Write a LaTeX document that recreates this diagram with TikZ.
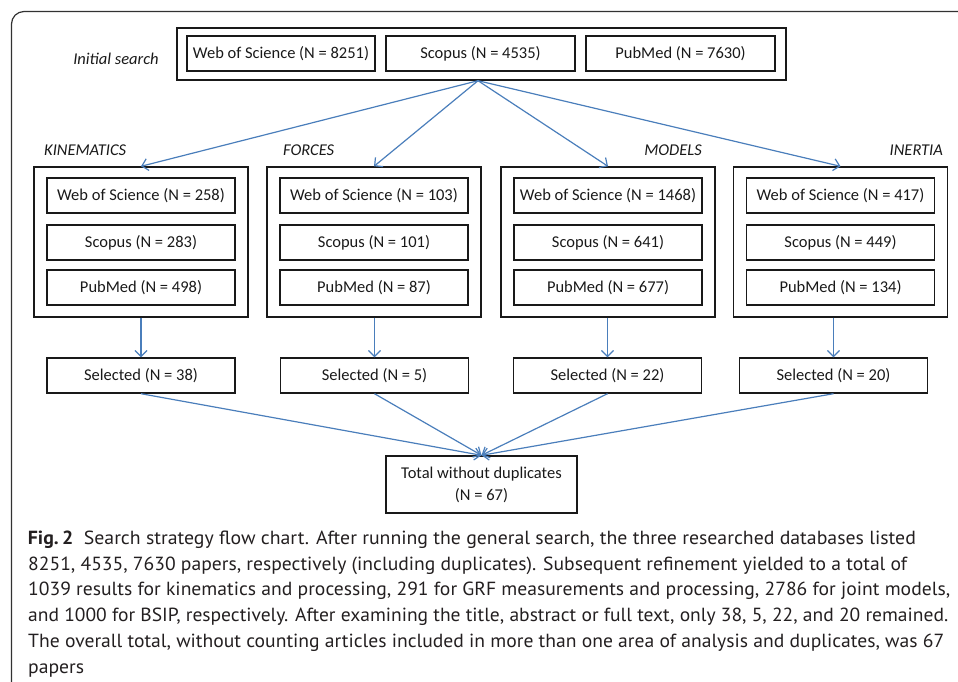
\documentclass[tikz,border=0pt]{standalone}
\usepackage{fontspec}
\usepackage{graphicx}
\setmainfont{Carlito}
\newfontfamily\capfont{PT Sans}
\usetikzlibrary{arrows.meta}
\definecolor{arrowblue}{RGB}{74,126,187}
\definecolor{boxblack}{RGB}{25,25,25}
\definecolor{captext}{RGB}{35,31,32}
\definecolor{framegray}{RGB}{50,50,50}
\tikzset{
  boxtext/.style={font=\fontsize{16.5}{19}\selectfont, text=boxblack},
  dbbox/.style={boxtext, draw=boxblack, line width=1.4pt, inner sep=0pt,
    minimum width=188pt, minimum height=35pt},
  groupbox/.style={draw=boxblack, line width=1.4pt, inner sep=0pt,
    minimum width=214pt, minimum height=150pt},
  catlabel/.style={font=\fontsize{16.5}{19}\selectfont\itshape, text=boxblack, inner sep=0pt},
  flow/.style={draw=arrowblue, line width=1.2pt, -{Straight Barb[length=6pt,width=12pt]}},
  capline/.style={anchor=base west, inner sep=0pt, text=captext,
    font=\capfont\fontsize{19}{22}\selectfont},
}
\begin{document}
\begin{tikzpicture}[x=1pt,y=-1pt]
\useasboundingbox (0,0) rectangle (958,681);
% frame
\draw[framegray, line width=1.2pt] (11.5,690) -- (11.5,24) arc[start angle=180,end angle=270,radius=12.5] -- (965,11.5);

% initial search
\node[catlabel] (initlbl) at (116,59) {Initial search};
\node[draw=boxblack, line width=1.4pt, minimum width=609pt, minimum height=52pt, inner sep=0pt] (top) at (481.5,54) {};
\node[dbbox] (twos) at (281,53.5) {Web of Science (N = 8251)};
\node[dbbox, minimum width=189pt] (tsco) at (480.5,53.5) {Scopus (N = 4535)};
\node[dbbox, minimum width=189pt] (tpub) at (680.5,53.5) {PubMed (N = 7630)};
\coordinate (src) at ([xshift=-3.5pt]top.south);

% category labels
\node[catlabel, anchor=west] (lkin) at (44,150) {KINEMATICS};
\node[catlabel, anchor=west] (lfor) at (283,150) {FORCES};
\node[catlabel, anchor=east] (lmod) at (702,150) {MODELS};
\node[catlabel, anchor=east] (line) at (943,150) {INERTIA};

% group boxes
\node[groupbox] (gkin) at (141,242) {};
\node[groupbox] (gfor) at (374,242) {};
\node[groupbox] (gmod) at (608,242) {};
\node[groupbox] (gine) at (840.5,242) {};

% KINEMATICS
\node[dbbox] (kw) at (141,195.5) {Web of Science (N = 258)};
\node[dbbox] (ks) at (141,242.5) {Scopus (N = 283)};
\node[dbbox] (kp) at (141,287.5) {PubMed (N = 498)};
% FORCES
\node[dbbox] (fw) at (374,195.5) {Web of Science (N = 103)};
\node[dbbox] (fs) at (374,242.5) {Scopus (N = 101)};
\node[dbbox] (fp) at (374,287.5) {PubMed (N = 87)};
% MODELS
\node[dbbox] (mw) at (608,195.5) {Web of Science (N = 1468)};
\node[dbbox] (ms) at (608,242.5) {Scopus (N = 641)};
\node[dbbox] (mp) at (608,287.5) {PubMed (N = 677)};
% INERTIA
\node[dbbox] (iw) at (840.5,195.5) {Web of Science (N = 417)};
\node[dbbox] (is) at (840.5,242.5) {Scopus (N = 449)};
\node[dbbox] (ip) at (840.5,287.5) {PubMed (N = 134)};

% selected
\node[dbbox] (skin) at (141,375.5) {Selected (N = 38)};
\node[dbbox] (sfor) at (374.5,375.5) {Selected (N = 5)};
\node[dbbox] (smod) at (607.5,375.5) {Selected (N = 22)};
\node[dbbox] (sine) at (833.5,375.5) {Selected (N = 20)};

% total
\node[dbbox, minimum width=191pt, minimum height=57pt, align=center,
  font=\fontsize{16.5}{22}\selectfont] (total) at (481.5,484.5)
  {Total without duplicates\\(N = 67)};

% arrows from initial search
\draw[flow] (src) -- (gkin.north);
\draw[flow] (src) -- (gfor.north);
\draw[flow] (src) -- (gmod.north);
\draw[flow] (src) -- (gine.north);

% arrows to selected
\draw[flow] (gkin.south -| skin.north) -- (skin.north);
\draw[flow] (gfor.south -| sfor.north) -- (sfor.north);
\draw[flow] (gmod.south -| smod.north) -- (smod.north);
\draw[flow] (gine.south -| sine.north) -- (sine.north);

% arrows to total
\draw[flow] (skin.south) -- (total.north);
\draw[flow] (sfor.south) -- (total.north);
\draw[flow] (smod.south) -- (total.north);
\draw[flow] (sine.south) -- (total.north);

% caption
\node[capline] (c1) at (27.7,544) {\resizebox{888pt}{\height}{\textbf{Fig.\,2}\ \ Search strategy flow chart. After running the general search, the three researched databases listed}};
\node[capline] (c2) at (28,570) {\resizebox{879pt}{\height}{8251, 4535, 7630 papers, respectively (including duplicates). Subsequent refinement yielded to a total of}};
\node[capline] (c3) at (28,595.8) {\resizebox{922pt}{\height}{1039 results for kinematics and processing, 291 for GRF measurements and processing, 2786 for joint models,}};
\node[capline] (c4) at (28,621.6) {\resizebox{920pt}{\height}{and 1000 for BSIP, respectively. After examining the title, abstract or full text, only 38, 5, 22, and 20 remained.}};
\node[capline] (c5) at (28,647.4) {\resizebox{916pt}{\height}{The overall total, without counting articles included in more than one area of analysis and duplicates, was 67}};
\node[capline] (c6) at (28,673) {\resizebox{56pt}{\height}{papers}};
\end{tikzpicture}
\end{document}
